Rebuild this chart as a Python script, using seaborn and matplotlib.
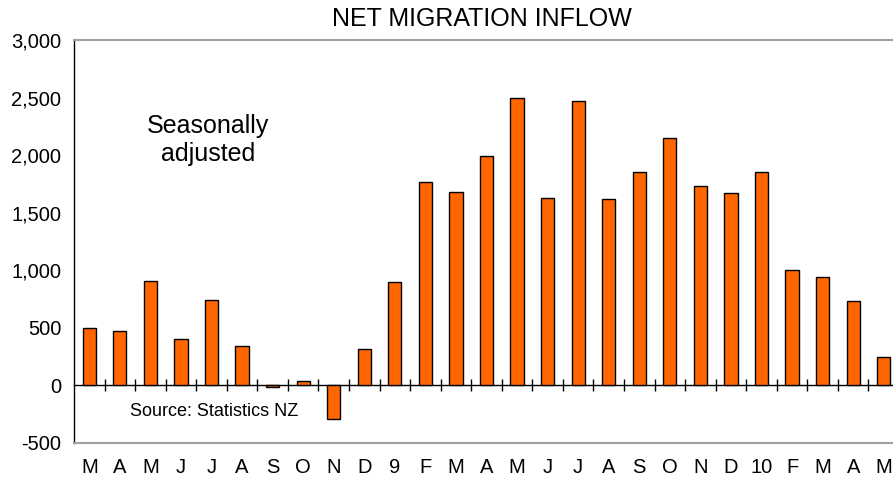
import matplotlib
matplotlib.use("Agg")
import matplotlib.pyplot as plt
import seaborn as sns
import numpy as np
import pandas as pd

# Monthly net migration inflow, seasonally adjusted
months = ["M", "A", "M", "J", "J", "A", "S", "O", "N", "D", "9", "F", "M", "A",
          "M", "J", "J", "A", "S", "O", "N", "D", "10", "F", "M", "A", "M"]
inflow = [500, 470, 910, 400, 740, 340, -15, 40, -290, 320, 900, 1770, 1680, 1990,
          2500, 1630, 2470, 1620, 1850, 2150, 1730, 1670, 1850, 1000, 940, 730, 250]
y_ticks = [-500, 0, 500, 1000, 1500, 2000, 2500, 3000]

df = pd.DataFrame({"pos": range(len(months)), "inflow": inflow})

sns.set_style("white")
plt.rcParams["font.family"] = ["Liberation Sans", "DejaVu Sans"]
plt.rcParams["text.color"] = "black"
plt.rcParams["xtick.color"] = "black"
plt.rcParams["ytick.color"] = "black"

fig = plt.figure(figsize=(8.93, 4.79), dpi=100)
ax = fig.add_axes([74 / 893, 36 / 479, (899 - 74) / 893, (443 - 40) / 479])

sns.barplot(data=df, x="pos", y="inflow", color="#FF6600", width=0.43,
            edgecolor="black", linewidth=1, saturation=1, ax=ax)

n = len(months)
ax.set_xlim(-0.5, n - 0.5)
ax.set_ylim(y_ticks[0], y_ticks[-1])
ax.set_yticks(y_ticks)
ax.set_yticklabels([f"{v:,}" for v in y_ticks], fontsize=14.5)
ax.set_xticks(range(n))
ax.set_xticklabels(months, fontsize=14.5)
ax.tick_params(axis="x", length=0, pad=11)
ax.tick_params(axis="y", direction="inout", length=10, width=1, color="black", pad=4)
ax.set_xlabel("")
ax.set_ylabel("")

# Spines
ax.spines["right"].set_visible(False)
ax.spines["left"].set_color("black")
ax.spines["left"].set_linewidth(1)
for s in ["top", "bottom"]:
    ax.spines[s].set_color("#a0a0a0")
    ax.spines[s].set_linewidth(1.5)

# Zero line with category-boundary ticks
zero_ax = ax.secondary_xaxis(0, transform=ax.transData)
zero_ax.set_xticks(np.arange(n) + 0.5)
zero_ax.set_xticklabels([])
zero_ax.tick_params(direction="inout", length=9, width=1, color="black")
zero_ax.spines["bottom"].set_color("black")
zero_ax.spines["bottom"].set_linewidth(1)

fig.text(482 / 893, 1 - 19 / 479, "NET MIGRATION INFLOW", ha="center", va="center", fontsize=18)
fig.text(208 / 893, 1 - 140 / 479, "Seasonally\nadjusted", ha="center", va="center",
         fontsize=18, linespacing=1.2)
fig.text(214 / 893, 1 - 412 / 479, "Source: Statistics NZ", ha="center", va="center", fontsize=13)

plt.savefig("out.png", dpi=100)
